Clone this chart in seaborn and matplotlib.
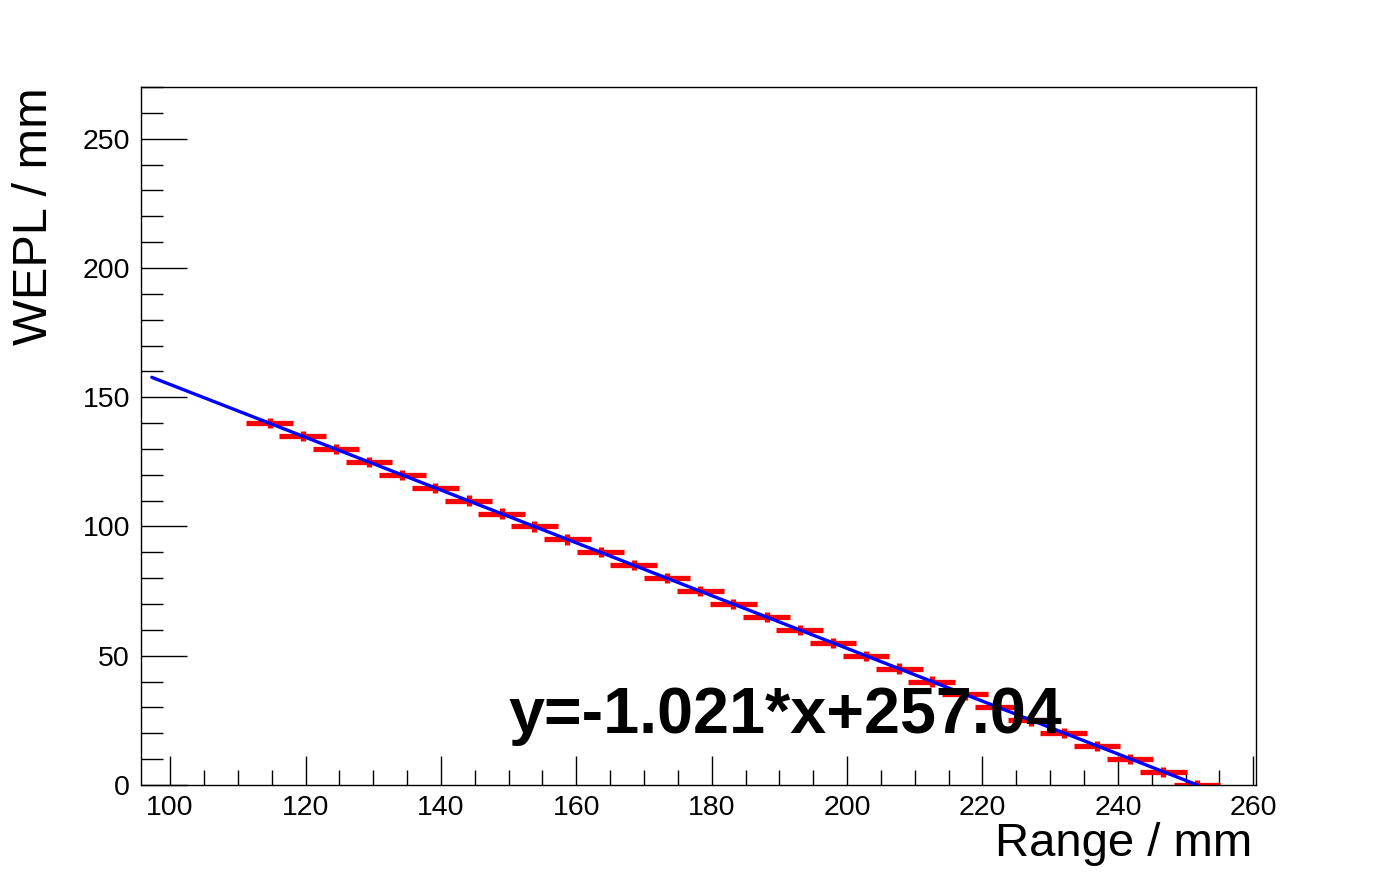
import numpy as np
import pandas as pd
import matplotlib
matplotlib.use("Agg")
import matplotlib.pyplot as plt
from matplotlib.ticker import MultipleLocator
import seaborn as sns

# measured points (range vs WEPL)
wepl = [140, 135, 130, 125, 120, 115, 110, 105, 100, 95, 90, 85, 80, 75, 70,
        65, 60, 55, 50, 45, 40, 35, 30, 25, 20, 15, 10, 5, 0]
range_mm = [114.7, 119.6, 124.5, 129.4, 134.3, 139.2, 144.1, 149.0, 153.8, 158.7,
            163.6, 168.5, 173.4, 178.3, 183.2, 188.1, 193.0, 197.9, 202.8, 207.7,
            212.5, 217.4, 222.3, 227.2, 232.0, 236.9, 241.8, 246.7, 251.7]
range_err = [3.45] * len(wepl)
wepl_err = [2.0] * len(wepl)

# linear fit result
slope = -1.021
intercept = 257.04
fit_x = np.array([97.3, 251.75])
fit = pd.DataFrame({'x': fit_x, 'y': slope * fit_x + intercept})

sns.set_style("white")
plt.rcParams['font.family'] = ['Liberation Sans', 'DejaVu Sans']
plt.rcParams['text.color'] = 'black'
plt.rcParams['xtick.color'] = 'black'
plt.rcParams['ytick.color'] = 'black'

fig = plt.figure(figsize=(13.96, 8.72), dpi=100)
ax = fig.add_axes([0.101, 0.0998, 0.7987, 0.8004])

ax.errorbar(range_mm, wepl, xerr=range_err, yerr=wepl_err, fmt='none',
            ecolor='#ff0000', elinewidth=3.8, capsize=0, zorder=2)
sns.lineplot(data=fit, x='x', y='y', color='#0000ff', linewidth=2.4, ax=ax, zorder=3)

ax.set_xlim(95.7, 260.4)
ax.set_ylim(0, 270)

ax.xaxis.set_major_locator(MultipleLocator(20))
ax.xaxis.set_minor_locator(MultipleLocator(5))
ax.yaxis.set_major_locator(MultipleLocator(50))
ax.yaxis.set_minor_locator(MultipleLocator(10))
ax.tick_params(axis='x', which='major', direction='in', length=21, width=1,
               labelsize=20.5, pad=7, bottom=True, top=False, colors='black')
ax.tick_params(axis='x', which='minor', direction='in', length=11, width=1,
               bottom=True, top=False, colors='black')
ax.tick_params(axis='y', which='major', direction='in', length=33, width=1,
               labelsize=20.5, pad=8, left=True, right=False, colors='black')
ax.tick_params(axis='y', which='minor', direction='in', length=16, width=1,
               left=True, right=False, colors='black')
for sp in ax.spines.values():
    sp.set_color('black')
    sp.set_linewidth(1)

ax.set_xlabel('')
ax.set_ylabel('')
fig.text(0.8969, 0.018, 'Range / mm', fontsize=34, ha='right', va='baseline',
         color='black')
fig.text(0.025, 0.9002, 'WEPL / mm', fontsize=35, rotation=90, ha='center',
         va='top', color='black')

ax.text(0.5627, 0.1596, 'y=-1.021*x+257.04', transform=fig.transFigure,
        fontsize=46.5, fontweight='bold', ha='center', va='baseline',
        color='black', zorder=5)

fig.savefig('out.png', dpi=100)
